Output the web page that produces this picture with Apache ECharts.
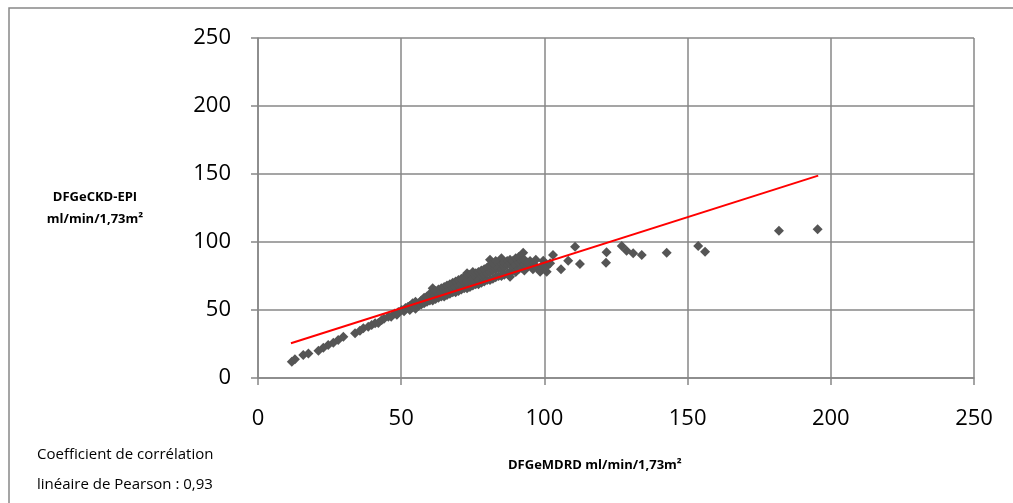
<!DOCTYPE html>
<html>
<head>
<meta charset="utf-8">
<script src="https://cdn.jsdelivr.net/npm/echarts@6/dist/echarts.min.js"></script>
<style>
  html, body { margin: 0; padding: 0; background: #ffffff; }
  #chart { width: 1013px; height: 503px; }
</style>
</head>
<body>
<div id="chart"></div>
<script>
// eGFR by MDRD (x) vs eGFR by CKD-EPI (y), ml/min/1,73m²
const mdrd = [
  11.8, 12.9, 15.8, 17.6, 21.1, 22.8, 24.5, 26.3, 28.0, 29.8,
  33.9, 35.6, 36.8, 38.5, 39.7, 40.9, 42.0, 43.2, 44.0, 45.5,
  46.5, 47.8, 48.5, 49.0, 50.2, 51.0, 51.5, 52.4, 53.0, 53.0,
  54, 54, 55, 55, 55, 56, 56, 57, 57, 58, 58, 58,
  59, 59, 59, 60, 60, 60, 61, 61, 61, 61, 62, 62, 62,
  63, 63, 63, 64, 64, 64, 65, 65, 65, 65, 66, 66, 66,
  67, 67, 67, 68, 68, 68, 69, 69, 69, 70, 70, 70,
  71, 71, 71, 72, 72, 72, 73, 73, 73, 73, 74, 74, 74,
  75, 75, 75, 76, 76, 76, 77, 77, 77, 78, 78, 78,
  79, 79, 79, 80, 80, 80, 81, 81, 81, 81, 82, 82, 82,
  83, 83, 83, 84, 84, 84, 85, 85, 85, 85, 86, 86, 86,
  87, 87, 87, 88, 88, 88, 88, 89, 89, 89, 90, 90, 90,
  91, 91, 91, 92, 92, 92.6, 93, 93, 93, 94, 94, 95, 95,
  96, 96, 97, 97, 98.5, 98.5, 99.6, 99.6, 100.8, 100.8,
  102, 103, 105.8, 108.3, 110.7, 112.4, 121.5, 121.7,
  127, 128.7, 131, 134, 142.7, 153.7, 156.1, 181.9, 195.4
];
const ckdEpi = [
  12.0, 13.7, 16.9, 18.1, 20.1, 22.3, 24.3, 26.0, 27.9, 30.4,
  32.9, 34.8, 36.5, 37.7, 39.0, 40.2, 40.5, 42.6, 43.5, 45.1,
  45.0, 47.5, 46.5, 48.5, 50.0, 49.0, 51.5, 52.4, 50.0, 53.0,
  52, 55, 51, 54, 56, 53, 55, 54, 57, 55, 56, 59,
  56, 58, 60, 57, 59, 62, 57, 60, 63, 66, 58, 61, 64,
  59, 62, 65, 60, 63, 66, 60, 62, 65, 67, 61, 64, 68,
  62, 65, 69, 63, 66, 70, 63, 67, 71, 64, 68, 72,
  65, 69, 73, 66, 70, 74, 66, 71, 75, 77, 67, 72, 76,
  68, 73, 78, 69, 74, 77, 69, 72, 78, 70, 75, 79,
  71, 76, 80, 72, 77, 81, 72, 78, 83, 87, 73, 79, 84,
  74, 80, 86, 75, 81, 85, 75, 80, 84, 88, 76, 82, 85,
  77, 83, 86, 74.5, 78, 84, 87, 79, 82, 86, 78, 83, 88,
  80, 85, 89, 81, 86, 92.1, 79, 84, 87, 82, 85, 83, 86,
  80, 84, 82, 87, 78.2, 79.4, 86.2, 83, 78.2, 82,
  84.3, 90.4, 80, 86.2, 96.5, 83.8, 84.8, 92.4,
  97, 93.6, 91.7, 90.4, 92.1, 97, 92.9, 108.3, 109.3
];
// Linear trend line end points (x, y)
const trendX = [11.5, 195.6];
const trendY = [25.5, 148.8];

const axisTicks = [0, 50, 100, 150, 200, 250];
const xAxisTitle = 'DFGeMDRD ml/min/1,73m²';
const yAxisTitle = ['DFGeCKD-EPI', 'ml/min/1,73m²'];
const noteLines = ['Coefficient de corrélation', 'linéaire de Pearson : 0,93'];

const points = mdrd.map((x, i) => [x, ckdEpi[i]]);
const trend = trendX.map((x, i) => [x, trendY[i]]);

const gridColor = '#878787';
const font = '"Open Sans", "Liberation Sans", sans-serif';

const chart = echarts.init(document.getElementById('chart'), null, { renderer: 'canvas' });
chart.setOption({
  backgroundColor: '#ffffff',
  animation: false,
  grid: { left: 258, right: 39, top: 38, bottom: 125, containLabel: false },
  xAxis: {
    type: 'value',
    min: axisTicks[0], max: axisTicks[axisTicks.length - 1], interval: 50,
    axisLine: { show: true, onZero: false, lineStyle: { color: gridColor, width: 1.5 } },
    axisTick: { show: true, length: 7, lineStyle: { color: gridColor, width: 1.5 } },
    splitLine: { show: true, lineStyle: { color: gridColor, width: 1.5 } },
    axisLabel: { margin: 30, fontSize: 22, color: '#000', fontFamily: font }
  },
  yAxis: {
    type: 'value',
    min: axisTicks[0], max: axisTicks[axisTicks.length - 1], interval: 50,
    axisLine: { show: true, onZero: false, lineStyle: { color: gridColor, width: 1.5 } },
    axisTick: { show: true, length: 7, lineStyle: { color: gridColor, width: 1.5 } },
    splitLine: { show: true, lineStyle: { color: gridColor, width: 1.5 } },
    axisLabel: { margin: 27, fontSize: 22, color: '#000', fontFamily: font }
  },
  series: [
    {
      type: 'scatter',
      data: points,
      symbol: 'diamond',
      symbolSize: 10,
      itemStyle: { color: '#555555', opacity: 1 },
      z: 3
    },
    {
      type: 'line',
      data: trend,
      symbol: 'none',
      lineStyle: { color: '#ff0000', width: 2 },
      z: 4
    }
  ],
  graphic: [
    {
      type: 'rect', silent: true,
      shape: { x: 9, y: 8, width: 1020, height: 520 },
      style: { fill: 'none', stroke: '#888888', lineWidth: 1.5 }
    },
    {
      type: 'text', x: 95, y: 186,
      style: { text: yAxisTitle.join('\n'), font: 'bold 13px ' + font, fill: '#000', align: 'center', verticalAlign: 'top', lineHeight: 22 }
    },
    {
      type: 'text', left: 508, top: 459,
      style: { text: xAxisTitle, font: 'bold 13px ' + font, fill: '#000' }
    },
    {
      type: 'text', left: 37, top: 440,
      style: { text: noteLines.join('\n'), font: '15px ' + font, fill: '#000', lineHeight: 30 }
    }
  ]
});
</script>
</body>
</html>
